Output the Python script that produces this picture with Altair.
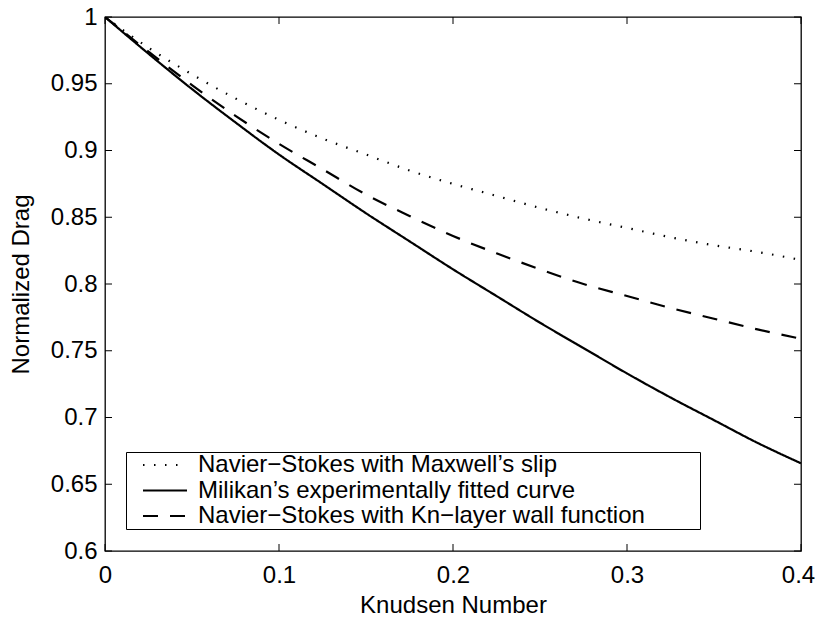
import altair as alt
import pandas as pd

kn = [0, 0.025, 0.05, 0.075, 0.1, 0.125, 0.15, 0.175, 0.2, 0.225, 0.25, 0.275, 0.3, 0.325, 0.35, 0.375, 0.4]
maxwell = [1.000, 0.977, 0.957, 0.939, 0.923, 0.909, 0.897, 0.885, 0.875, 0.866, 0.857, 0.849, 0.842, 0.835, 0.829, 0.824, 0.818]
milikan = [1.000, 0.9725, 0.946, 0.921, 0.897, 0.875, 0.853, 0.832, 0.811, 0.791, 0.771, 0.752, 0.733, 0.715, 0.698, 0.681, 0.6657]
knlayer = [1.000, 0.974, 0.949, 0.926, 0.905, 0.886, 0.867, 0.851, 0.836, 0.823, 0.811, 0.800, 0.791, 0.782, 0.774, 0.766, 0.759]

names = ["Navier\u2212Stokes with Maxwell\u2019s slip",
         "Milikan\u2019s experimentally fitted curve",
         "Navier\u2212Stokes with Kn\u2212layer wall function"]
xticks = [0, 0.1, 0.2, 0.3, 0.4]
yticks = [0.6, 0.65, 0.7, 0.75, 0.8, 0.85, 0.9, 0.95, 1.0]

rows = []
for name, series in zip(names, [maxwell, milikan, knlayer]):
    for k, v in zip(kn, series):
        rows.append({"kn": k, "val": v, "series": name})
df = pd.DataFrame(rows)

W, H = 696, 534
FONT = "Liberation Sans"

xscale = alt.Scale(domain=[0, 0.4], nice=False)
yscale = alt.Scale(domain=[0.6, 1.0], nice=False, zero=False)
xaxis = alt.Axis(values=xticks, format="~g", title="Knudsen Number", labelFlush=False,
                 labelOffset={"expr": "datum.value >= 0.4 ? -3 : 0"},
                 domain=False, ticks=False, grid=False, labelPadding=12, titlePadding=6)
yaxis = alt.Axis(values=yticks, format="~g", title="Normalized Drag", labelFlush=False,
                 titleX=-84, titleBaseline="middle",
                 domain=False, ticks=False, grid=False, labelPadding=8)

lines = alt.Chart(df).mark_line(color="black", strokeWidth=2.2, interpolate="monotone", clip=True).encode(
    x=alt.X("kn:Q", scale=xscale, axis=xaxis),
    y=alt.Y("val:Q", scale=yscale, axis=yaxis),
    strokeDash=alt.StrokeDash("series:N",
                              scale=alt.Scale(domain=names, range=[[1.5, 9.5], [1, 0], [15, 12]]),
                              legend=alt.Legend(title=None, orient="none", legendX=21, legendY=435,
                                                symbolType="M-2.2,0L2.2,0", symbolSize=400,
                                                symbolStrokeWidth=2, symbolStrokeColor="black",
                                                symbolFillColor="transparent", symbolOffset=26,
                                                labelFontSize=24, labelFont=FONT, labelColor="black",
                                                labelOffset=21, rowPadding=1.5, padding=1,
                                                labelExpr="datum.label + '\u2800\u2800\u2800'",
                                                strokeColor="black", fillColor="white",
                                                labelLimit=800)),
)

xt = pd.DataFrame({"kn": xticks})
yt = pd.DataFrame({"val": yticks})
tick_style = dict(color="black", strokeWidth=1)
bottom = alt.Chart(xt).mark_rule(**tick_style).encode(x=alt.X("kn:Q", scale=xscale, axis=xaxis), y=alt.value(H), y2=alt.value(H - 7))
top = alt.Chart(xt).mark_rule(**tick_style).encode(x=alt.X("kn:Q", scale=xscale, axis=xaxis), y=alt.value(0), y2=alt.value(7))
left = alt.Chart(yt).mark_rule(**tick_style).encode(y=alt.Y("val:Q", scale=yscale, axis=yaxis), x=alt.value(0), x2=alt.value(7))
right = alt.Chart(yt).mark_rule(**tick_style).encode(y=alt.Y("val:Q", scale=yscale, axis=yaxis), x=alt.value(W), x2=alt.value(W - 7))

chart = alt.layer(lines, bottom, top, left, right).properties(
    width=W, height=H,
    autosize=alt.AutoSizeParams(type="none"),
    padding={"left": 97, "top": 9, "right": 14, "bottom": 70},
    background="white",
).configure_view(stroke="black", strokeWidth=1.3).configure_axis(
    labelFont=FONT, labelFontSize=24, labelColor="black",
    titleFont=FONT, titleFontSize=24, titleFontWeight="normal", titleColor="black",
)

chart.save("out.html", embed_options={"renderer": "svg", "actions": False})
